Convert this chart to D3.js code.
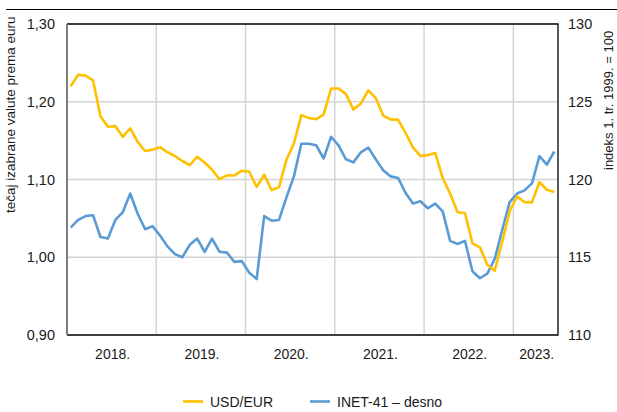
<!DOCTYPE html>
<html>
<head>
<meta charset="utf-8">
<script src="https://cdn.jsdelivr.net/npm/d3@7"></script>
<style>
  body { margin: 0; background: #fff; }
  svg text { font-family: "Liberation Sans", Arial, sans-serif; fill: #1a1a1a; }
</style>
</head>
<body>
<svg id="chart" width="617" height="412"></svg>
<script>
// years shown on the axis; data runs Jan 2018 - Jun 2023 (monthly)
var years = [2018, 2019, 2020, 2021, 2022, 2023];
var monthsInYear = [12, 12, 12, 12, 12, 6];

// USD/EUR, monthly average (left axis)
var usdEur = [
  1.2200, 1.2348, 1.2336, 1.2276, 1.1812, 1.1678, 1.1686, 1.1549, 1.1659, 1.1484, 1.1367, 1.1384,
  1.1416, 1.1351, 1.1302, 1.1238, 1.1185, 1.1293, 1.1218, 1.1126, 1.1004, 1.1053, 1.1051, 1.1113,
  1.1100, 1.0905, 1.1063, 1.0862, 1.0902, 1.1255, 1.1463, 1.1828, 1.1792, 1.1775, 1.1838, 1.2170,
  1.2171, 1.2098, 1.1899, 1.1979, 1.2146, 1.2047, 1.1822, 1.1772, 1.1770, 1.1601, 1.1414, 1.1304,
  1.1314, 1.1342, 1.1019, 1.0819, 1.0579, 1.0566, 1.0179, 1.0128, 0.9904, 0.9826, 1.0201, 1.0589,
  1.0785, 1.0707, 1.0706, 1.0968, 1.0868, 1.0840
];

// INET-41 index (right axis)
var inet41 = [
  116.9, 117.4, 117.65, 117.7, 116.3, 116.2, 117.4, 117.9, 119.1, 117.8, 116.8, 117.0,
  116.4, 115.7, 115.2, 115.0, 115.8, 116.2, 115.35, 116.2, 115.35, 115.3, 114.7, 114.75,
  114.0, 113.6, 117.65, 117.35, 117.4, 118.85, 120.2, 122.3, 122.3, 122.2, 121.35, 122.75,
  122.2, 121.3, 121.1, 121.75, 122.05, 121.3, 120.6, 120.2, 120.1, 119.15, 118.45, 118.6,
  118.15, 118.45, 117.95, 116.05, 115.85, 116.05, 114.1, 113.65, 113.95, 114.9, 116.75, 118.55,
  119.1, 119.3, 119.75, 121.5, 120.95, 121.8
];

var leftTicks = [0.90, 1.00, 1.10, 1.20, 1.30];
var rightTicks = [110, 115, 120, 125, 130];
var seriesNames = ["USD/EUR", "INET-41 \u2013 desno"];
var leftTitle = "te\u010daj izabrane valute prema euru";
var rightTitle = "indeks 1. tr. 1999. = 100";

var months = [];
years.forEach(function(y, i){
    for(var m = 1; m <= monthsInYear[i]; m++){
        months.push(y + "-" + (m < 10 ? "0" + m : m));
    }
});

var svg = d3.select("#chart");
var plot = { left: 67, right: 558, top: 24, bottom: 335 };

var x = d3.scalePoint()
    .domain(months)
    .range([plot.left, plot.right])
    .padding(0.5);
var step = x.step();

var yL = d3.scaleLinear().domain([0.90, 1.30]).range([plot.bottom, plot.top]);
var yR = d3.scaleLinear().domain([110, 130]).range([plot.bottom, plot.top]);

var fmt = function(d){ return d3.format(".2f")(d).replace(".", ","); };

// top rule
svg.append("line")
    .attr("x1", 6).attr("x2", 617)
    .attr("y1", 9.5).attr("y2", 9.5)
    .attr("stroke", "#000").attr("stroke-width", 1.2);

// horizontal gridlines
svg.append("g").selectAll("line")
    .data(leftTicks.slice(1, -1))
    .join("line")
    .attr("x1", plot.left).attr("x2", plot.right)
    .attr("y1", function(d){ return yL(d); })
    .attr("y2", function(d){ return yL(d); })
    .attr("stroke", "#d4d4d4").attr("stroke-width", 1.5);

// vertical gridlines at year boundaries
var yearStarts = [];
var idx = 0;
years.forEach(function(y, i){
    yearStarts.push({ year: y, first: months[idx], last: months[idx + monthsInYear[i] - 1] });
    idx += monthsInYear[i];
});
svg.append("g").selectAll("line")
    .data(yearStarts.slice(1))
    .join("line")
    .attr("x1", function(d){ return x(d.first) - step / 2; })
    .attr("x2", function(d){ return x(d.first) - step / 2; })
    .attr("y1", plot.top).attr("y2", plot.bottom)
    .attr("stroke", "#d4d4d4").attr("stroke-width", 1.5);

// series lines
var lineL = d3.line()
    .x(function(d, i){ return x(months[i]); })
    .y(function(d){ return yL(d); });
var lineR = d3.line()
    .x(function(d, i){ return x(months[i]); })
    .y(function(d){ return yR(d); });

svg.append("path")
    .datum(inet41)
    .attr("d", lineR)
    .attr("fill", "none")
    .attr("stroke", "#5b9bd5")
    .attr("stroke-width", 2.6)
    .attr("stroke-linejoin", "round");

svg.append("path")
    .datum(usdEur)
    .attr("d", lineL)
    .attr("fill", "none")
    .attr("stroke", "#ffc000")
    .attr("stroke-width", 2.6)
    .attr("stroke-linejoin", "round");

// frame
svg.append("path")
    .attr("d", "M" + plot.left + "," + plot.top + "H" + plot.right + "V" + plot.bottom + "H" + plot.left)
    .attr("fill", "none").attr("stroke", "#000").attr("stroke-width", 1.3);
svg.append("line")
    .attr("x1", plot.left).attr("x2", plot.left)
    .attr("y1", plot.top).attr("y2", plot.bottom)
    .attr("stroke", "#7f7f7f").attr("stroke-width", 2);

// left tick labels
svg.append("g").selectAll("text")
    .data(leftTicks)
    .join("text")
    .attr("x", 55)
    .attr("y", function(d){ return yL(d); })
    .attr("dy", "0.36em")
    .attr("text-anchor", "end")
    .attr("font-size", 14.5)
    .text(fmt);

// right tick labels
svg.append("g").selectAll("text")
    .data(rightTicks)
    .join("text")
    .attr("x", 568)
    .attr("y", function(d){ return yR(d); })
    .attr("dy", "0.36em")
    .attr("font-size", 14.5)
    .text(function(d){ return d; });

// year labels
svg.append("g").selectAll("text")
    .data(yearStarts)
    .join("text")
    .attr("x", function(d){ return (x(d.first) + x(d.last)) / 2 + 1; })
    .attr("y", 359)
    .attr("text-anchor", "middle")
    .attr("font-size", 14)
    .text(function(d){ return d.year + "."; });

// axis titles
svg.append("text")
    .attr("transform", "translate(15,213) rotate(-90)")
    .attr("font-size", 13.5)
    .text(leftTitle);
svg.append("text")
    .attr("transform", "translate(613,170) rotate(-90)")
    .attr("font-size", 13)
    .text(rightTitle);

// legend
var legend = [
    { name: seriesNames[0], color: "#ffc000", x: 183 },
    { name: seriesNames[1], color: "#5b9bd5", x: 310 }
];
var lg = svg.append("g").selectAll("g")
    .data(legend)
    .join("g")
    .attr("transform", function(d){ return "translate(" + d.x + ",401.5)"; });
lg.append("line")
    .attr("x1", 0).attr("x2", 20)
    .attr("stroke", function(d){ return d.color; })
    .attr("stroke-width", 2.6);
lg.append("text")
    .attr("x", 27)
    .attr("dy", "0.36em")
    .attr("font-size", 14)
    .text(function(d){ return d.name; });
</script>
</body>
</html>
